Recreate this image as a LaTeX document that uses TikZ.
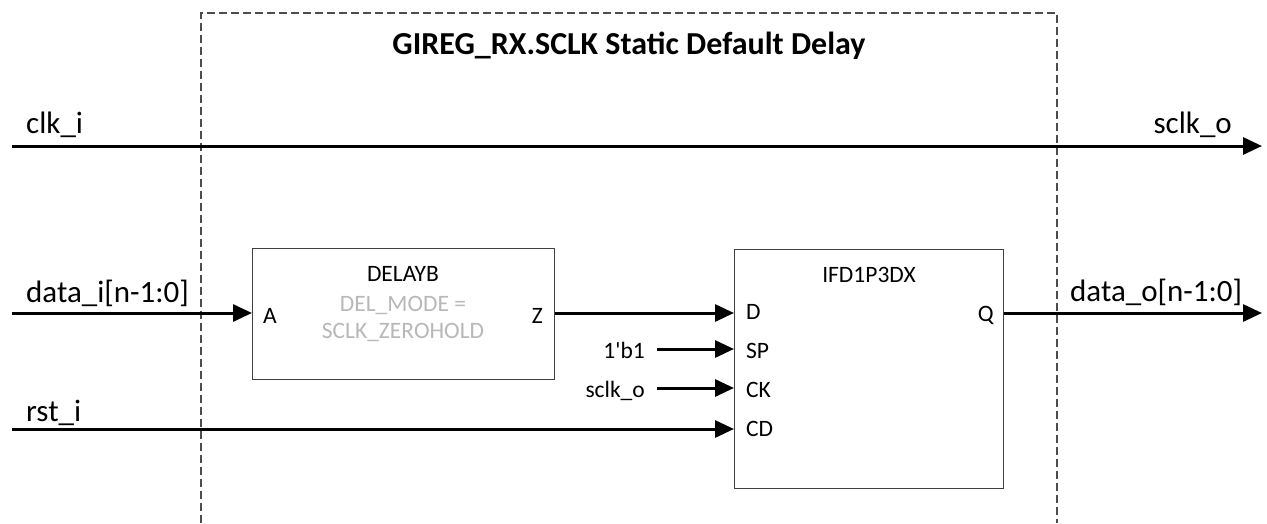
\documentclass[tikz,border=0pt]{standalone}
\usepackage{fontspec}
\setmainfont{Carlito}
\usetikzlibrary{arrows.meta}
\begin{document}
\begin{tikzpicture}[x=1pt,y=-1pt,
 sig/.style={line width=3pt, -{Triangle[length=19pt,width=17pt]}},
 blk/.style={draw=black!75, line width=1.4pt, fill=white, inner sep=0pt, anchor=north west},
 biglbl/.style={inner sep=0pt, font=\fontsize{31}{36}\selectfont},
 pinlbl/.style={inner sep=0pt, font=\fontsize{23.5}{28}\selectfont},
 graylbl/.style={pinlbl, text=black!28},
 border/.style={draw=black!70, line width=1.1pt, dash pattern=on 8pt off 4pt}]
\useasboundingbox (0,0) rectangle (1267,523);
\draw[border] (201,523) -- (201,13) -- (1057,13) -- (1057,523);
\node[inner sep=0pt, font=\bfseries\fontsize{32}{38}\selectfont, anchor=base] (title) at (629,54) {GIREG\_RX.SCLK Static Default Delay};
% blocks
\node[blk, minimum width=302pt, minimum height=131pt] (delay) at (252,248) {};
\node[blk, minimum width=269pt, minimum height=239pt] (ifd) at (734,249) {};
% delay texts
\node[pinlbl, anchor=base] (dname) at (403,281) {DELAYB};
\node[graylbl, anchor=base] (dmode1) at (403,311) {DEL\_MODE =};
\node[graylbl, anchor=base] (dmode2) at (403,338) {SCLK\_ZEROHOLD};
\node[pinlbl, anchor=base west] (pa) at (263,323) {A};
\node[pinlbl, anchor=base east] (pz) at (543,323) {Z};
% ifd texts
\node[pinlbl, anchor=base] (iname) at (869,282) {IFD1P3DX};
\node[pinlbl, anchor=base west] (pd) at (746,319) {D};
\node[pinlbl, anchor=base west] (psp) at (746,358) {SP};
\node[pinlbl, anchor=base west] (pck) at (746,397) {CK};
\node[pinlbl, anchor=base west] (pcd) at (746,436) {CD};
\node[pinlbl, anchor=base east] (pq) at (994,321) {Q};
\node[pinlbl, anchor=base east] (one) at (645,358) {1\textquotesingle b1};
\node[pinlbl, anchor=base east] (sclkin) at (645,397) {sclk\_o};
% signal labels
\node[biglbl, anchor=base west] (lclk) at (26,133) {clk\_i};
\node[biglbl, anchor=base east] (lsclk) at (1232,133) {sclk\_o};
\node[biglbl, anchor=base west] (ldata) at (26,302) {data\_i[n-1:0]};
\node[biglbl, anchor=base west] (ldatao) at (1070,301) {data\_o[n-1:0]};
\node[biglbl, anchor=base west] (lrst) at (26,421) {rst\_i};
% coordinates
\coordinate (clkA) at (12,146);
\coordinate (clkB) at (1262,146);
\coordinate (dA) at (12,313);
\coordinate (qB) at (1262,313);
\coordinate (spA) at (657,349);
\coordinate (ckA) at (657,388);
\coordinate (rA) at (12,429);
% connectors
\draw[sig] (clkA) -- (clkB);
\draw[sig] (dA) -- (dA -| delay.west);
\draw[sig] (delay.east |- dA) -- (dA -| ifd.west);
\draw[sig] (spA) -- (spA -| ifd.west);
\draw[sig] (ckA) -- (ckA -| ifd.west);
\draw[sig] (rA) -- (rA -| ifd.west);
\draw[sig] (ifd.east |- qB) -- (qB);
\end{tikzpicture}
\end{document}
